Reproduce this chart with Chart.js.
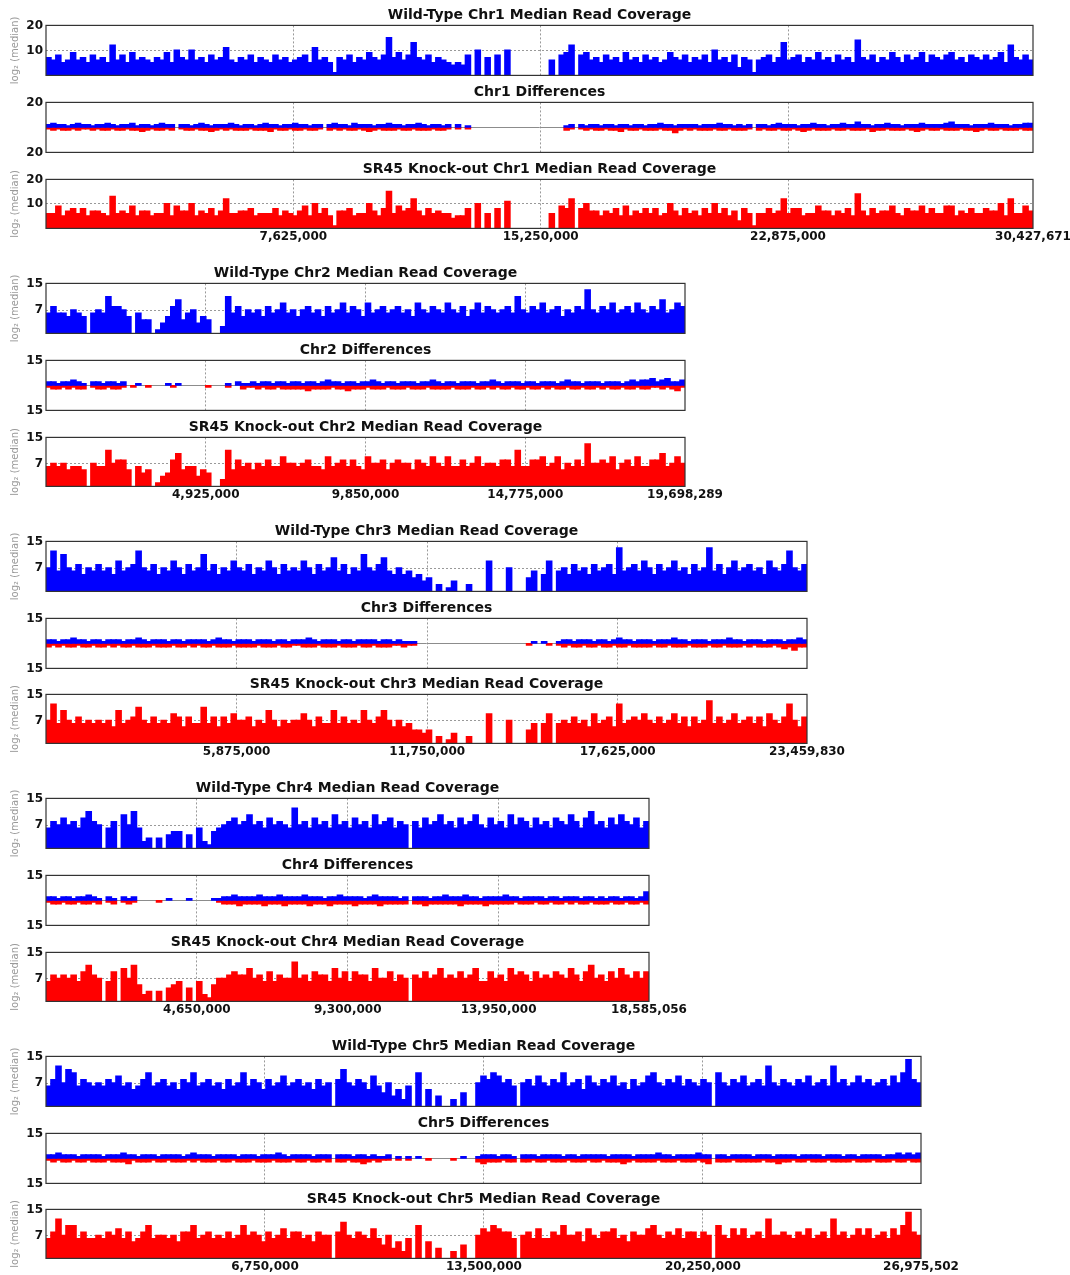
<!DOCTYPE html>
<html>
<head>
<meta charset="utf-8">
<script src="https://cdn.jsdelivr.net/npm/chart.js@4.4.1/dist/chart.umd.min.js"></script>
<style>
html, body { margin: 0; padding: 0; background: #fff; overflow: hidden; }
#wrap { position: relative; width: 1070px; height: 1275px; }
#wrap canvas { position: absolute; left: 0; }
</style>
</head>
<body>
<div id="wrap"></div>
<script>
// chromosome info
var chrNames = ['Chr1', 'Chr2', 'Chr3', 'Chr4', 'Chr5'];
var chrLengths = [30427671, 19698289, 23459830, 18585056, 26975502];
var tickSteps = [7625000, 4925000, 5875000, 4650000, 6750000];
var coverageMax = [20, 15, 15, 15, 15];
var coverageTicks = [[10, 20], [7, 15], [7, 15], [7, 15], [7, 15]];
var diffTicks = [[-20, 0, 20], [-15, 0, 15], [-15, 0, 15], [-15, 0, 15], [-15, 0, 15]];

// log2 median read coverage per bin, wild type
var wtChr1 = [
  7,6,8,5,6,9,6,7,5,8, 6,7,5,12,6,8,5,9,6,7, 6,5,7,6,9,5,10,7,6,10, 6,7,5,8,6,7,11,6,5,7,
  6,8,5,7,6,5,8,6,7,5, 6,7,8,5,11,6,7,5,1,7, 6,8,5,7,6,9,7,6,8,15, 7,9,6,8,13,7,6,8,5,7,
  6,5,4,5,4,8,0,10,0,7, 0,8,0,10,0,0,0,0,0,0, 0,0,6,0,8,9,12,0,8,9, 6,7,5,8,6,7,5,9,6,7,
  5,8,6,7,5,6,9,7,6,8, 5,7,6,8,5,10,6,7,5,8, 3,7,6,1,6,7,8,5,7,13, 6,7,8,5,7,6,9,6,7,5,
  8,6,7,5,14,7,6,8,5,7, 6,9,7,5,8,6,7,9,5,8, 7,6,8,9,6,7,5,8,7,6, 8,6,7,9,5,12,7,6,8,6
];
var wtChr2 = [
  6,8,6,6,5,7,6,5,0,6, 7,6,11,8,8,7,5,0,6,4, 4,0,1,3,5,8,10,4,6,7, 3,5,4,0,0,2,11,6,8,5,
  7,6,7,5,8,6,7,9,6,7, 5,7,8,6,7,5,8,6,7,9, 6,8,7,5,9,6,7,8,6,7, 8,6,7,5,9,7,6,8,7,6,
  9,7,6,8,5,7,9,6,8,7, 6,7,8,6,11,7,6,8,7,9, 6,7,8,5,7,6,8,7,13,7, 6,8,7,9,6,7,8,6,9,7,
  6,8,7,10,6,7,9,8
];
var wtChr3 = [
  7,12,6,11,7,6,8,5,7,6, 8,6,7,5,9,6,7,8,12,7, 6,8,5,7,6,9,7,5,8,6, 7,11,6,8,5,7,6,9,7,6,
  8,5,7,6,9,7,5,8,6,7, 6,9,7,5,8,6,7,10,6,8, 5,7,6,11,7,6,8,10,6,5, 7,5,6,4,5,3,4,0,2,0,
  1,3,0,0,2,0,0,0,9,0, 0,0,7,0,0,0,4,6,0,5, 9,0,6,7,5,8,6,7,5,8, 6,7,8,5,13,6,7,8,6,9,
  7,5,8,6,7,9,6,7,5,8, 6,7,13,6,8,5,7,9,6,7, 8,6,7,5,9,7,6,8,12,7, 6,8
];
var wtChr4 = [
  6,8,7,9,7,8,6,9,11,8, 7,0,6,8,0,10,7,11,6,2, 3,0,3,0,4,5,5,0,4,0, 6,2,1,5,6,7,8,9,7,8,
  10,7,8,6,9,7,8,7,6,12, 7,8,6,9,7,8,6,10,7,8, 6,9,7,8,6,10,7,8,9,6, 8,7,0,8,6,9,7,8,10,7,
  8,6,9,7,8,10,7,6,9,7, 8,6,10,7,9,8,6,9,7,8, 6,9,8,7,10,8,6,9,11,7, 8,6,9,7,10,8,7,9,6,8
];
var wtChr5 = [
  6,8,12,7,11,10,6,8,7,6, 7,6,8,7,9,6,7,5,6,8, 10,6,7,8,6,7,5,8,7,10, 6,7,8,6,7,5,8,6,7,10,
  6,8,7,5,8,6,7,9,6,7, 8,6,7,5,8,6,7,0,8,11, 7,6,8,7,5,9,6,4,7,3, 5,2,6,0,10,0,5,0,3,0,
  0,2,0,4,0,0,7,9,8,10, 9,7,8,6,0,7,8,6,9,7, 6,8,7,10,6,7,8,5,9,7, 6,8,7,9,6,7,5,8,6,7,
  9,10,7,6,8,7,9,6,8,7, 6,8,7,0,10,7,6,8,7,9, 6,7,8,6,12,7,6,8,7,6, 8,7,9,6,7,8,6,12,7,8,
  6,7,9,7,8,6,7,8,6,9, 7,10,14,8,7
];

// log2 median read coverage per bin, SR45 knock-out
var koChr1 = [
  6,6,9,5,7,8,6,8,5,7, 7,6,5,13,6,7,6,9,5,7, 7,5,6,6,10,5,9,7,7,10, 5,7,6,8,5,7,12,6,6,7,
  7,8,5,6,6,6,8,5,7,6, 5,7,9,5,10,6,8,5,1,7, 7,8,5,6,6,10,7,5,8,15, 6,9,7,8,12,7,5,8,6,7,
  6,6,4,5,5,8,0,10,0,6, 0,8,0,11,0,0,0,0,0,0, 0,0,6,0,9,8,12,0,8,10, 7,7,5,7,6,8,5,9,5,7,
  6,8,6,8,5,6,10,7,5,8, 6,7,5,8,6,10,6,8,5,7, 3,8,6,1,6,6,8,6,7,12, 6,8,8,5,6,6,9,7,7,5,
  7,6,8,5,14,7,5,8,6,7, 7,9,6,5,8,7,7,9,6,8, 6,6,9,9,5,7,6,8,6,6, 8,7,7,10,5,12,6,6,9,7
];
var koChr2 = [
  6,7,6,7,5,6,6,5,0,7, 6,6,11,7,8,8,5,0,6,4, 5,0,1,3,4,8,10,5,6,6, 3,5,4,0,0,2,11,5,8,6,
  7,5,7,6,8,6,6,9,7,7, 6,7,8,6,6,5,9,6,7,8, 6,8,6,5,9,7,7,8,5,7, 8,7,7,5,8,7,6,9,7,6,
  9,6,6,8,6,7,9,6,7,7, 6,8,8,6,11,6,6,8,8,9, 6,7,9,5,7,6,8,6,13,7, 7,8,7,9,5,7,8,6,9,6,
  6,8,8,10,6,7,9,7
];
var koChr3 = [
  7,12,6,10,7,6,8,6,7,6, 7,6,7,5,10,6,7,8,11,7, 6,8,6,7,6,9,8,5,8,6, 6,11,6,8,5,8,6,9,7,7,
  8,5,7,6,10,7,5,7,6,7, 7,9,7,5,8,6,6,10,6,8, 6,7,6,10,7,6,8,10,7,5, 7,5,6,4,4,3,4,0,2,0,
  1,3,0,0,2,0,0,0,9,0, 0,0,7,0,0,0,4,6,0,6, 9,0,6,7,6,8,6,7,5,9, 6,7,8,5,12,6,7,8,7,9,
  7,6,8,6,7,9,6,8,5,8, 6,7,13,6,8,6,7,9,6,7, 8,6,8,5,9,7,6,8,12,7, 5,8
];
var koChr4 = [
  6,8,7,8,7,8,6,9,11,8, 7,0,6,9,0,10,7,11,5,2, 3,0,3,0,4,5,6,0,4,0, 6,2,1,5,7,7,8,9,8,8,
  10,7,8,6,9,6,8,7,7,12, 7,8,6,9,8,8,6,10,7,9, 6,9,8,8,6,10,7,7,9,6, 8,7,0,8,7,9,7,8,10,7,
  8,7,9,7,8,10,6,6,9,7, 8,6,10,8,9,8,6,9,7,8, 7,9,8,7,10,8,6,9,11,7, 8,6,9,7,10,8,7,9,7,9
];
var koChr5 = [
  6,8,12,7,10,10,6,8,6,6, 7,6,8,7,9,6,8,5,6,8, 10,6,7,7,6,7,5,8,8,10, 6,7,8,6,7,6,8,6,7,10,
  7,8,7,5,8,6,7,9,6,8, 8,6,7,5,8,7,7,0,8,11, 7,6,8,7,6,9,6,4,7,3, 5,2,6,0,10,0,5,0,3,0,
  0,2,0,4,0,0,7,9,8,10, 9,8,8,6,0,7,8,6,9,6, 6,8,7,10,7,7,8,5,9,7, 6,8,8,9,6,7,5,8,7,7,
  9,10,7,6,8,7,9,6,8,8, 6,8,7,0,10,7,6,9,7,9, 6,7,8,6,12,7,7,8,7,6, 8,7,9,6,7,8,6,12,7,8,
  6,7,9,7,9,6,7,8,6,9, 7,10,14,8,7
];

// differences per bin: wild type higher (blue, up) and knock-out higher (red, down)
var upChr1 = [
  2,3,2,2,1,2,3,2,2,1, 2,2,3,2,1,2,2,3,1,2, 2,1,2,3,2,2,0,2,2,1, 2,3,2,1,2,2,2,3,2,1,
  2,2,1,2,3,2,2,1,2,2, 3,2,2,1,2,2,0,2,3,2, 2,1,3,2,2,2,1,2,2,3, 2,2,1,2,2,3,2,1,2,2,
  1,2,0,2,0,1,0,0,0,0, 0,0,0,0,0,0,0,0,0,0, 0,0,0,0,0,1,2,0,2,1, 2,2,1,2,2,1,2,2,1,2,
  2,1,2,2,3,2,2,1,2,2, 2,2,1,2,2,2,3,2,2,1, 2,1,2,0,2,2,1,2,3,2, 2,2,1,2,2,3,2,2,1,2,
  2,3,2,2,4,2,2,1,2,2, 3,2,2,1,2,2,2,3,2,2, 2,2,3,4,2,2,2,1,2,2, 2,3,2,2,2,1,2,2,3,3
];
var downChr1 = [
  1,2,1,2,2,1,2,1,1,2, 1,2,2,1,2,2,1,2,2,3, 2,1,2,2,1,2,0,1,2,2, 1,2,2,3,2,1,2,1,2,2,
  2,1,2,2,2,3,1,2,2,1, 2,2,1,2,2,1,0,2,1,2, 1,2,2,1,2,3,2,1,2,2, 2,1,2,2,1,2,2,2,1,2,
  2,1,0,1,0,1,0,0,0,0, 0,0,0,0,0,0,0,0,0,0, 0,0,0,0,0,2,1,0,1,2, 1,2,2,1,2,2,3,1,2,2,
  1,2,2,2,1,2,2,4,2,1, 2,1,2,2,2,1,2,2,1,2, 2,2,1,0,2,1,2,2,1,2, 2,1,2,3,2,1,2,2,2,1,
  2,2,1,2,2,2,1,3,2,2, 1,2,2,2,1,2,3,2,1,2, 2,1,2,2,2,1,2,2,3,2, 1,2,2,1,2,2,2,1,2,2
];
var upChr2 = [
  2,2,1,2,2,3,2,1,0,2, 2,1,2,2,1,2,0,0,1,0, 0,0,0,0,1,0,1,0,0,0, 0,0,0,0,0,0,1,0,2,1,
  1,2,1,2,2,1,2,2,1,2, 2,1,2,2,1,2,3,2,2,1, 2,2,1,2,2,3,2,1,2,2, 1,2,2,2,1,2,2,3,2,1,
  2,2,1,2,2,2,1,2,2,3, 2,1,2,2,2,1,2,2,1,2, 2,2,1,2,3,2,2,1,2,2, 2,1,2,2,2,1,2,3,2,3,
  3,4,2,3,4,2,2,3
];
var downChr2 = [
  1,2,2,1,2,1,2,2,0,1, 2,2,1,2,2,1,0,1,0,0, 1,0,0,0,0,1,0,0,0,0, 0,0,1,0,0,0,1,0,0,2,
  1,1,2,1,2,2,1,2,2,2, 2,2,3,2,2,2,2,1,2,2, 3,2,2,2,1,2,2,2,1,2, 2,2,1,2,2,2,1,2,2,2,
  2,1,2,2,2,1,2,2,1,2, 1,2,2,1,2,2,1,2,2,1, 2,1,2,2,1,2,2,1,2,2, 1,2,1,2,2,1,2,2,1,2,
  2,1,1,2,1,2,3,1
];
var upChr3 = [
  2,2,1,2,2,3,2,2,1,2, 2,1,2,2,2,1,2,2,3,2, 1,2,2,2,1,2,2,1,2,2, 2,2,1,2,3,2,2,1,2,2,
  2,1,2,2,2,1,2,2,1,2, 2,2,3,2,1,2,2,2,1,2, 2,1,2,2,2,2,1,2,2,1, 2,1,1,1,0,0,0,0,0,0,
  0,0,0,0,0,0,0,0,0,0, 0,0,0,0,0,0,0,1,0,1, 0,0,1,2,2,1,2,2,2,1, 2,2,1,2,3,2,2,1,2,2,
  2,1,2,2,2,3,2,2,1,2, 2,2,1,2,2,2,3,2,2,1, 2,2,2,1,2,2,2,1,2,2, 3,2
];
var downChr3 = [
  2,1,2,1,2,2,1,2,2,1, 2,2,1,2,1,2,2,1,2,2, 2,1,2,2,2,1,2,2,1,2, 1,2,2,1,2,2,2,1,2,2,
  2,2,1,2,2,2,1,2,2,1, 1,2,2,2,1,2,2,2,1,2, 2,2,1,2,2,1,2,2,2,1, 1,2,1,1,0,0,0,0,0,0,
  0,0,0,0,0,0,0,0,0,0, 0,0,0,0,0,0,1,0,0,0, 1,0,1,2,1,2,2,1,2,2, 1,2,2,1,2,2,1,2,2,2,
  2,1,2,2,1,2,2,2,1,2, 2,2,1,2,2,1,2,2,2,1, 2,1,2,2,2,1,2,3,2,4, 2,2
];
var upChr4 = [
  2,2,1,2,2,1,2,2,3,2, 1,0,2,1,0,2,1,2,0,0, 0,0,0,0,1,0,0,0,1,0, 0,0,0,1,1,2,2,3,2,2,
  2,2,3,2,2,2,3,2,2,2, 2,3,2,2,2,1,2,2,3,2, 2,2,2,1,2,3,2,2,2,2, 1,2,0,2,2,2,1,2,2,3,
  2,2,2,3,2,2,1,2,2,2, 2,3,2,2,1,2,2,2,2,1, 2,2,1,2,2,2,1,2,2,1, 2,1,2,2,1,2,2,1,2,5
];
var downChr4 = [
  1,2,2,1,2,2,1,2,2,1, 2,0,1,2,0,1,2,1,0,0, 0,0,1,0,0,0,0,0,0,0, 0,0,0,0,1,2,2,2,3,2,
  2,2,2,3,2,2,2,3,2,2, 2,2,3,2,2,2,3,2,2,2, 2,3,2,2,2,2,3,2,2,2, 2,2,0,2,2,3,2,2,2,2,
  2,2,3,2,2,2,2,3,2,2, 2,2,2,1,2,2,2,1,2,2, 1,2,2,1,2,1,2,2,1,2, 2,2,1,2,2,1,2,2,1,2
];
var upChr5 = [
  2,2,3,2,2,2,1,2,2,2, 2,1,2,2,2,3,2,2,1,2, 2,2,1,2,2,2,2,1,2,3, 2,2,2,1,2,2,2,2,1,2,
  2,2,1,2,2,2,3,2,1,2, 2,2,2,1,2,2,2,0,2,2, 2,1,2,2,1,2,1,1,2,0, 1,0,1,0,1,0,0,0,0,0,
  0,0,0,1,0,0,1,2,2,2, 1,2,2,1,0,2,2,2,1,2, 2,2,2,1,2,2,1,2,2,2, 2,2,1,2,2,2,2,1,2,2,
  2,2,3,2,2,1,2,2,2,2, 3,2,2,0,2,2,1,2,2,2, 2,1,2,2,2,1,2,2,2,2, 1,2,2,2,2,1,2,2,2,1,
  2,2,1,2,2,2,2,1,2,2, 3,2,3,2,3
];
var downChr5 = [
  1,2,1,2,2,1,2,2,1,2, 2,2,1,2,2,2,3,1,2,2, 2,1,2,2,1,2,2,2,1,2, 1,2,2,2,1,2,2,1,2,2,
  2,1,2,2,2,1,2,2,2,1, 2,2,1,2,2,1,2,0,2,2, 1,2,2,3,2,1,2,1,1,0, 1,0,1,0,0,0,1,0,0,0,
  0,1,0,0,0,0,2,3,2,2, 2,1,2,2,0,2,2,1,2,2, 1,2,2,2,1,2,2,2,1,2, 2,1,2,2,2,3,2,1,2,2,
  2,2,1,2,2,2,1,2,2,2, 1,2,3,0,2,2,2,1,2,2, 2,2,2,1,2,2,3,2,2,1, 2,2,1,2,2,2,1,2,2,2,
  2,1,2,2,2,1,2,2,2,1, 2,2,1,2,2
];

var wtData = [wtChr1, wtChr2, wtChr3, wtChr4, wtChr5];
var koData = [koChr1, koChr2, koChr3, koChr4, koChr5];
var upData = [upChr1, upChr2, upChr3, upChr4, upChr5];
var downData = [downChr1, downChr2, downChr3, downChr4, downChr5];

// where the plot boxes sit on the page
var wtTops = [25, 283, 541, 798, 1056];
var diffTops = [102, 360, 618, 875, 1133];
var koTops = [179, 437, 694, 952, 1209];
var plotLeft = 46;
var plotHeight = 50;
var pxPerBase = 987 / 30427671;
var padTop = 12;
var titleBlock = 3 + 16.8 + 1.6;

var FONT = "'DejaVu Sans', 'Liberation Sans', sans-serif";

var framePlugin = {
  id: 'frame',
  afterDraw: function(chart) {
    var a = chart.chartArea;
    var c = chart.ctx;
    c.save();
    c.strokeStyle = '#333';
    c.lineWidth = 1.2;
    c.strokeRect(a.left, a.top, a.right - a.left, a.bottom - a.top);
    c.restore();
  }
};

function fmt(v) {
  return Number(v).toLocaleString('en-US');
}

// empty bins get no bar at all
function bars(arr, sign) {
  return arr.map(function(v) { return v === 0 ? null : sign * v; });
}

function makePanel(k, kind) {
  var L = chrLengths[k];
  var step = tickSteps[k];
  var plotW = Math.round(L * pxPerBase);
  var wt = wtData[k];
  var labels = wt.map(function(_, i) { return i; });
  var withTicks = kind === 'ko';
  var plotTop = kind === 'wt' ? wtTops[k] : kind === 'diff' ? diffTops[k] : koTops[k];
  var bottomSpace = withTicks ? 26 : 16;
  var height = padTop + titleBlock + plotHeight + bottomSpace;

  var canvas = document.createElement('canvas');
  canvas.width = plotLeft * 2 + plotW;
  canvas.height = Math.round(height);
  canvas.style.top = (plotTop - padTop - titleBlock) + 'px';
  document.getElementById('wrap').appendChild(canvas);

  var datasets, yMin, yMax, yTickVals, title;
  if (kind === 'diff') {
    datasets = [
      { data: bars(upData[k], 1), backgroundColor: '#0000ff' },
      { data: bars(downData[k], -1), backgroundColor: '#ff0000' }
    ];
    yMin = diffTicks[k][0];
    yMax = diffTicks[k][2];
    yTickVals = diffTicks[k];
    title = chrNames[k] + ' Differences';
  } else {
    datasets = [{
      data: bars(kind === 'wt' ? wt : koData[k], 1),
      backgroundColor: kind === 'wt' ? '#0000ff' : '#ff0000'
    }];
    yMin = 0;
    yMax = coverageMax[k];
    yTickVals = coverageTicks[k];
    title = (kind === 'wt' ? 'Wild-Type ' : 'SR45 Knock-out ') + chrNames[k] + ' Median Read Coverage';
  }
  datasets.forEach(function(d) {
    d.borderWidth = 0;
    d.barPercentage = 1;
    d.categoryPercentage = 1;
    d.inflateAmount = 0.8;
    d.xAxisID = 'x';
    d.yAxisID = 'y';
  });

  var xTickVals = [];
  for (var t = step; t < L; t += step) xTickVals.push(t);
  xTickVals.push(L);

  new Chart(canvas.getContext('2d'), {
    type: 'bar',
    data: { labels: labels, datasets: datasets },
    plugins: [framePlugin],
    options: {
      responsive: false,
      animation: false,
      events: [],
      layout: { padding: { left: 0, right: 0, top: padTop, bottom: canvas.height - padTop - titleBlock - plotHeight - (withTicks ? 15.4 : 0) } },
      plugins: {
        legend: { display: false },
        tooltip: { enabled: false },
        title: {
          display: true,
          text: title,
          color: '#111',
          font: { family: FONT, size: 14, weight: 'bold' },
          padding: { top: 3, bottom: 1.6 }
        }
      },
      scales: {
        x: { type: 'category', display: false, stacked: true },
        xg: {
          type: 'linear',
          position: 'bottom',
          min: 0,
          max: L,
          offset: false,
          afterBuildTicks: function(s) {
            s.ticks = xTickVals.map(function(v) { return { value: v }; });
          },
          ticks: {
            display: withTicks,
            autoSkip: false,
            maxRotation: 0,
            padding: 1,
            color: '#111',
            font: { family: FONT, size: 12, weight: 'bold' },
            callback: function(v) { return fmt(v); }
          },
          grid: {
            offset: false,
            drawTicks: false,
            lineWidth: 1,
            color: function(ctx) {
              return ctx.tick && ctx.tick.value === L ? 'rgba(0,0,0,0)' : '#999';
            }
          },
          border: { display: false, dash: [2, 2] }
        },
        y: {
          position: 'left',
          min: yMin,
          max: yMax,
          stacked: kind === 'diff',
          afterBuildTicks: function(s) {
            s.ticks = yTickVals.map(function(v) { return { value: v }; });
          },
          afterFit: function(s) { s.width = plotLeft; },
          ticks: {
            padding: 3,
            color: '#111',
            font: { family: FONT, size: 12, weight: 'bold' },
            callback: function(v) { return v === 0 ? '' : String(Math.abs(v)); }
          },
          grid: {
            drawTicks: false,
            lineWidth: 1,
            color: function(ctx) {
              if (!ctx.tick) return 'rgba(0,0,0,0)';
              var v = ctx.tick.value;
              if (v === yMax || v === yMin) return 'rgba(0,0,0,0)';
              return kind === 'diff' ? '#8c8c8c' : '#999';
            }
          },
          border: {
            display: false,
            dash: function(ctx) {
              return (kind === 'diff' && ctx.tick && ctx.tick.value === 0) ? [] : [2, 2];
            }
          },
          title: {
            display: kind !== 'diff',
            text: 'log\u2082 (median)',
            color: '#999',
            font: { family: FONT, size: 10 },
            padding: { top: 9, bottom: 0 }
          }
        },
        yr: {
          type: 'linear',
          position: 'right',
          display: true,
          afterFit: function(s) { s.width = plotLeft; },
          ticks: { display: false },
          grid: { display: false, drawTicks: false },
          border: { display: false }
        }
      }
    }
  });
}

for (var k = 0; k < chrNames.length; k++) {
  makePanel(k, 'wt');
  makePanel(k, 'diff');
  makePanel(k, 'ko');
}
</script>
</body>
</html>
